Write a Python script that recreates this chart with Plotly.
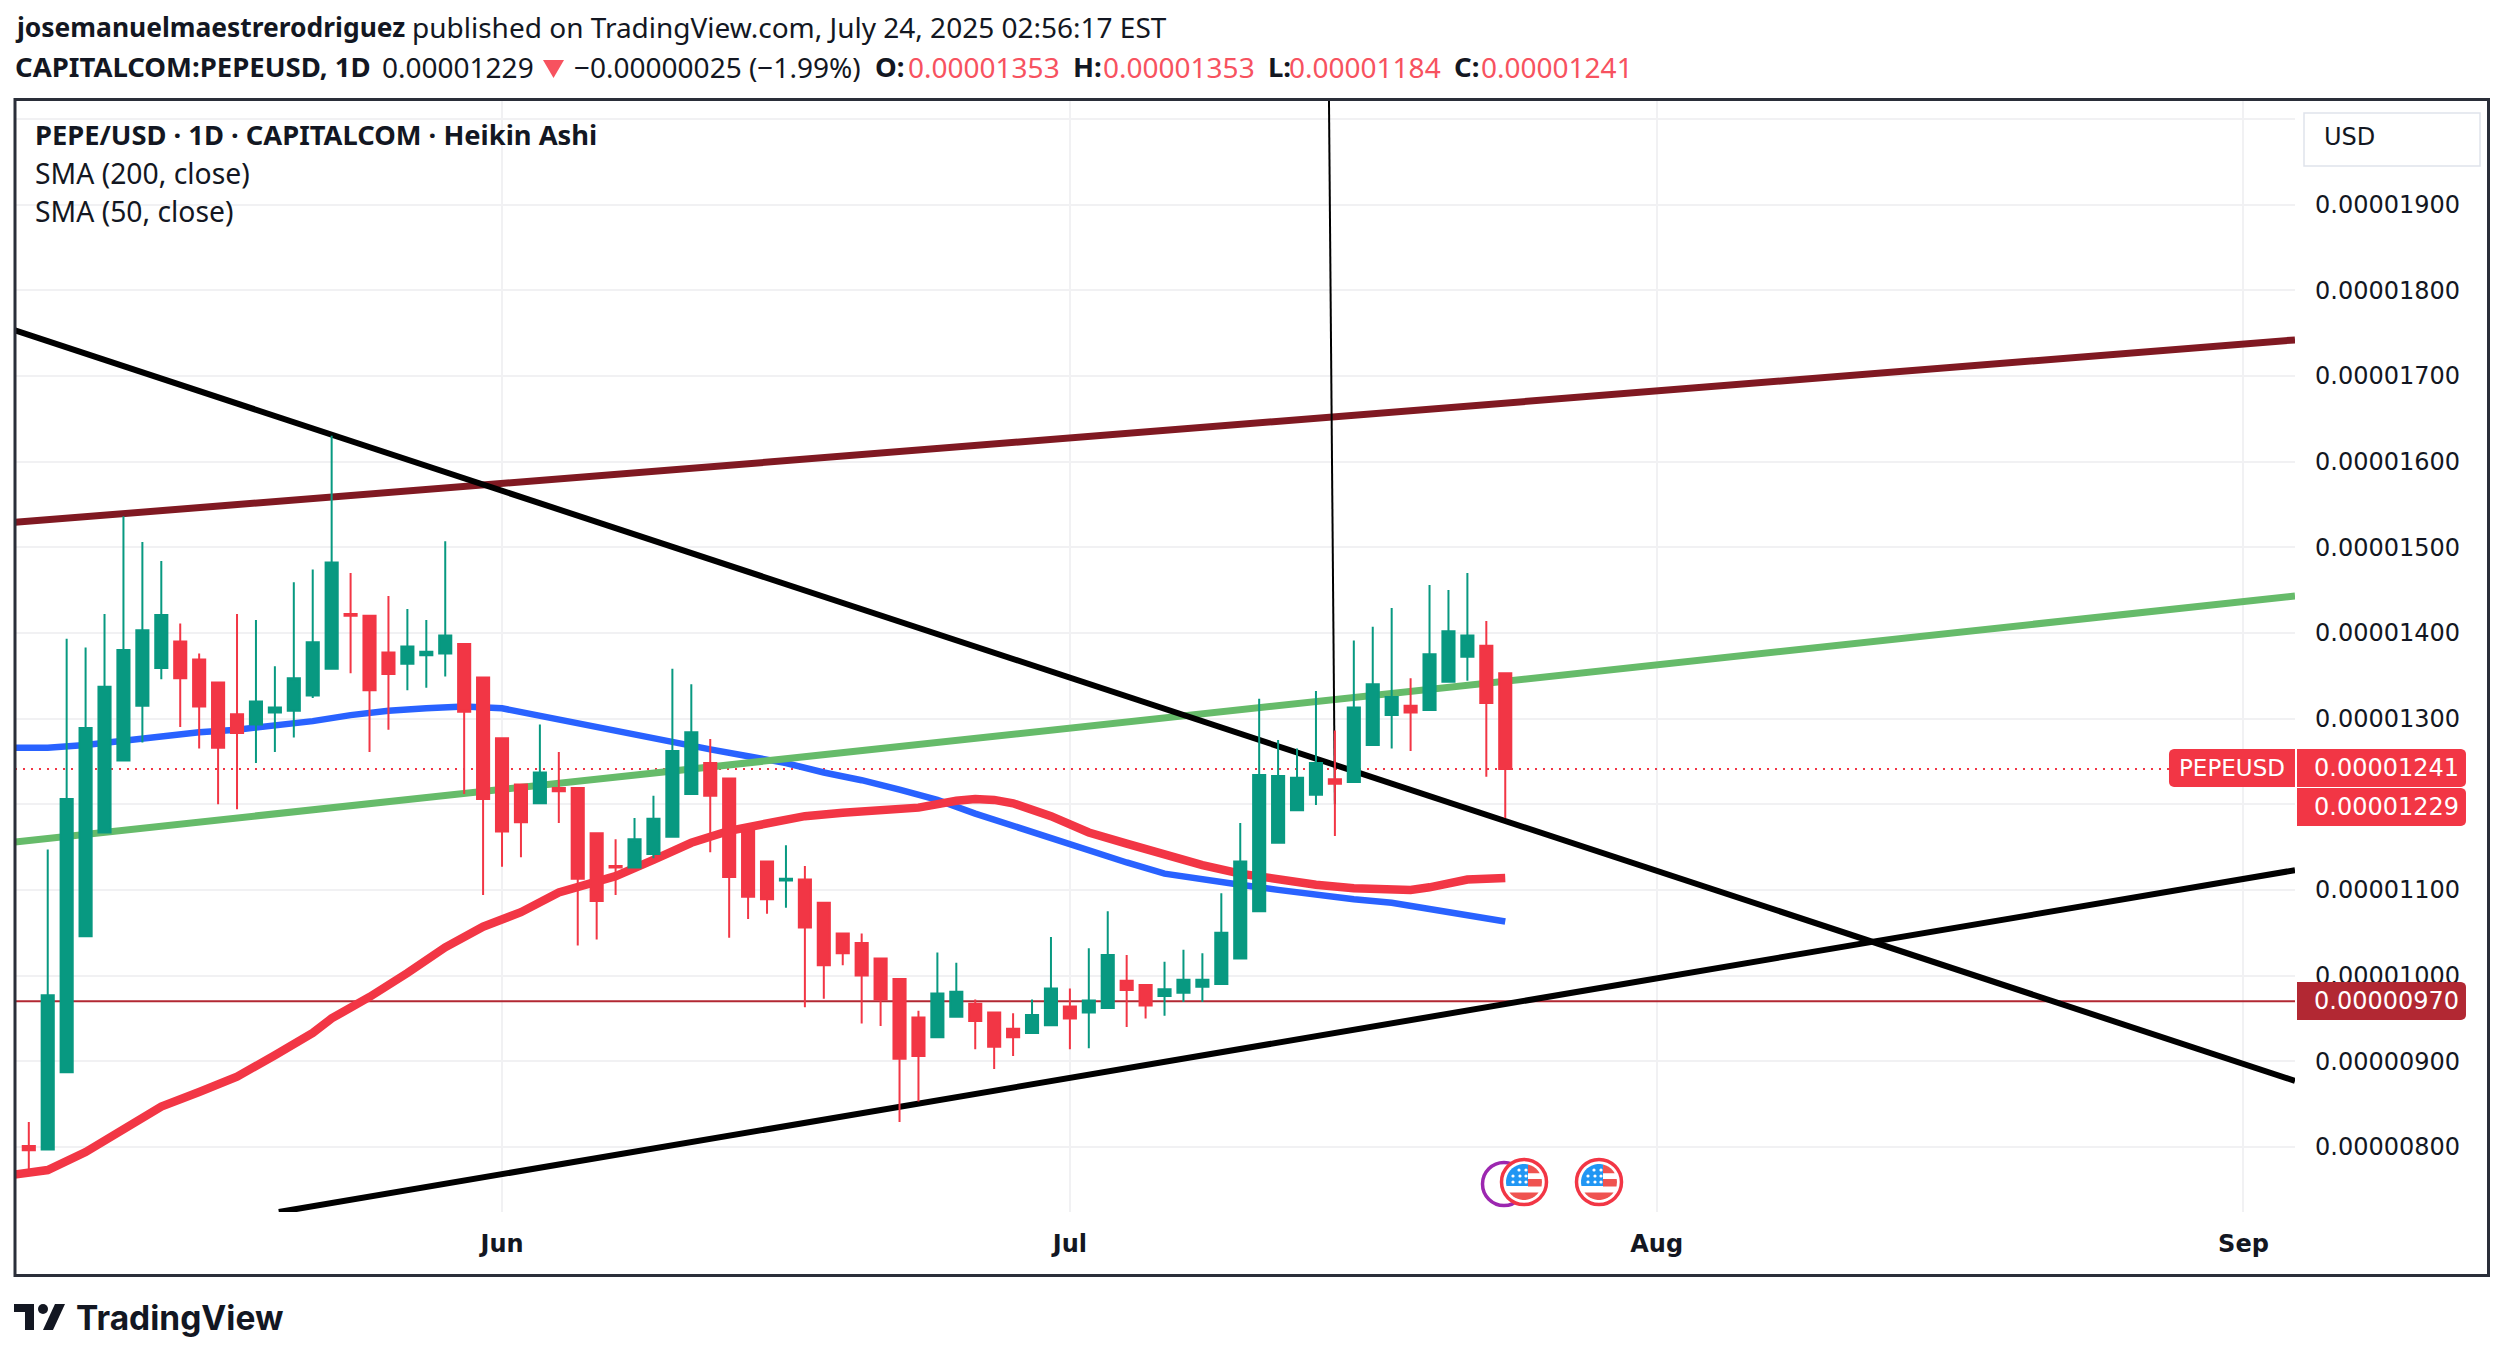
import numpy as np
import pandas as pd
import plotly.graph_objects as go

W, H = 2504, 1359
UNIT = 1e-8  # every price list below is in units of 0.00000001

# data: heikin ashi candles, one per day
days = pd.date_range("2025-05-07", "2025-07-24", freq="D")
opens = [801, 797, 887, 1046, 1167, 1251, 1315, 1359, 1390, 1369, 1342, 1305, 1293, 1307, 1309, 1327, 1358, 1422, 1420, 1377,
    1364, 1374, 1376, 1387, 1348, 1277, 1223, 1201, 1219, 1219, 1166, 1128, 1126, 1142, 1162, 1212, 1248, 1230, 1169, 1133,
    1111, 1112, 1085, 1049, 1038, 1020, 996, 951, 928, 952, 967, 957, 938, 933, 942, 964, 957, 962, 994, 989,
    976, 980, 987, 990, 1020, 1075, 1155, 1193, 1211, 1229, 1226, 1269, 1304, 1315, 1310, 1343, 1372, 1385, 1353]
highs = [829, 1147, 1393, 1383, 1422, 1536, 1506, 1484, 1411, 1376, 1342, 1422, 1415, 1361, 1459, 1474, 1630, 1470, 1420, 1443,
    1428, 1415, 1507, 1387, 1348, 1277, 1223, 1293, 1261, 1219, 1166, 1159, 1184, 1210, 1358, 1340, 1276, 1230, 1169, 1133,
    1152, 1128, 1085, 1049, 1049, 1020, 996, 959, 1027, 1015, 972, 957, 956, 972, 1045, 985, 1032, 1075, 1024, 989,
    1016, 1030, 1026, 1096, 1178, 1323, 1275, 1265, 1332, 1286, 1391, 1407, 1429, 1347, 1456, 1450, 1470, 1414, 1353]
lows = [772, 797, 887, 1046, 1167, 1251, 1272, 1346, 1290, 1265, 1200, 1194, 1248, 1261, 1278, 1324, 1358, 1353, 1261, 1287,
    1333, 1336, 1349, 1212, 1094, 1127, 1138, 1201, 1178, 1035, 1042, 1094, 1126, 1137, 1162, 1212, 1144, 1044, 1066, 1072,
    1079, 963, 973, 1012, 944, 941, 829, 853, 928, 952, 914, 891, 906, 933, 942, 914, 915, 962, 940, 950,
    953, 969, 969, 990, 1020, 1075, 1155, 1193, 1199, 1163, 1226, 1269, 1265, 1262, 1310, 1343, 1344, 1232, 1184]
closes = [796, 977, 1206, 1289, 1337, 1380, 1403, 1421, 1347, 1314, 1266, 1283, 1320, 1313, 1347, 1389, 1482, 1420, 1333, 1352,
    1384, 1378, 1397, 1308, 1206, 1168, 1179, 1237, 1215, 1113, 1087, 1126, 1159, 1183, 1262, 1284, 1210, 1115, 1092, 1089,
    1113, 1056, 1012, 1026, 1000, 972, 903, 906, 979, 981, 947, 917, 928, 954, 985, 950, 971, 1024, 983, 965,
    984, 995, 995, 1050, 1133, 1234, 1233, 1231, 1248, 1224, 1313, 1340, 1325, 1307, 1375, 1402, 1397, 1318, 1241]

sma200_days = ["05-06", "05-08", "05-10", "05-12", "05-14", "05-16", "05-18", "05-20", "05-22", "05-24", "05-26", "05-28", "05-30",
    "06-01", "06-03", "06-05", "06-08", "06-10", "06-12", "06-14", "06-16", "06-18", "06-20", "06-22", "06-24", "06-26", "06-28", "06-30",
    "07-02", "07-04", "07-06", "07-08", "07-10", "07-12", "07-14", "07-16", "07-18", "07-20", "07-22", "07-24"]
sma200 = [1266, 1266, 1269, 1274, 1280, 1284, 1287, 1292, 1297, 1304, 1309, 1312, 1314,
    1312, 1303, 1294, 1281, 1272, 1264, 1256, 1248, 1237, 1228, 1217, 1205, 1189, 1175, 1160,
    1145, 1132, 1119, 1112, 1106, 1100, 1094, 1089, 1085, 1078, 1071, 1063]
sma50_days = ["05-06", "05-07", "05-08", "05-10", "05-12", "05-14", "05-16", "05-18", "05-20", "05-22", "05-23", "05-25", "05-27", "05-29", "05-31",
    "06-02", "06-04", "06-07", "06-09", "06-11", "06-13", "06-15", "06-17", "06-19", "06-21", "06-23", "06-25", "06-26", "06-27", "06-28", "06-30",
    "07-02", "07-04", "07-06", "07-08", "07-10", "07-12", "07-14", "07-16", "07-18", "07-19", "07-20", "07-22", "07-24"]
sma50 = [767, 769, 773, 794, 820, 847, 864, 882, 907, 933, 950, 975, 1003, 1033, 1057,
    1074, 1097, 1116, 1135, 1155, 1169, 1177, 1186, 1190, 1193, 1196, 1204, 1206, 1205, 1201, 1186,
    1167, 1154, 1141, 1129, 1119, 1112, 1106, 1102, 1100, 1100, 1103, 1112, 1114]

# drawn lines, start and end
left_edge, right_edge = "2025-05-06 06:30", "2025-09-03 17:20"
edges = [left_edge, right_edge]
falling_line = [1753, 877]
maroon_line = [1529, 1742]
green_line = [1156, 1443]
rising_days = ["2025-05-20 05:00", right_edge]
rising_line = [724, 1123]
needle_days = ["2025-07-14 16:30", "2025-07-15 00:00"]
needle_line = [2022, 1200]
support = [970, 970]
last_close = [1241, 1241]

# axes
price_range = [724, 2022]
price_ticks = [800, 900, 1000, 1100, 1200, 1300, 1400, 1500, 1600, 1700, 1800, 1900, 2000]
price_labels = ["0.00000800", "0.00000900", "0.00001000", "0.00001100", "", "0.00001300", "0.00001400",
    "0.00001500", "0.00001600", "0.00001700", "0.00001800", "0.00001900", ""]
month_ticks = ["2025-06-01", "2025-07-01", "2025-08-01", "2025-09-01"]
month_labels = ["Jun", "Jul", "Aug", "Sep"]


def scaled(values):
    return (np.array(values) * UNIT).tolist()


def px(x):
    return x / W


def py(y):
    return 1 - y / H


def paper_rect(x0, y0, x1, y1, **kw):
    return dict(type="rect", xref="paper", yref="paper", x0=px(x0), x1=px(x1), y0=py(y0), y1=py(y1), **kw)


def paper_circle(cx, cy, r, **kw):
    return dict(type="circle", xref="paper", yref="paper", x0=px(cx - r), x1=px(cx + r), y0=py(cy + r), y1=py(cy - r), **kw)


def paper_path(points, color):
    d = "M" + " L".join(f"{px(a):.5f},{py(b):.5f}" for a, b in points) + " Z"
    return dict(type="path", xref="paper", yref="paper", path=d, fillcolor=color, line_width=0)


def tag(x0, y0, x1, y1, color, rounded="right"):
    # price tag with rounded outer corners
    r = 5
    pts = []
    left_r = r if rounded == "left" else 0
    right_r = r if rounded == "right" else 0
    for (cx, cy, rad, start) in [(x0 + left_r, y0 + left_r, left_r, 180), (x1 - right_r, y0 + right_r, right_r, 270),
                                 (x1 - right_r, y1 - right_r, right_r, 0), (x0 + left_r, y1 - left_r, left_r, 90)]:
        for a in np.radians(np.linspace(start, start + 90, 5)):
            pts.append((cx + rad * np.cos(a), cy + rad * np.sin(a)))
    return paper_path(pts, color)


def arc(cx, cy, r, a0, a1, n=14):
    # angles in degrees, screen coordinates (y grows downward)
    return [(cx + r * np.cos(a), cy + r * np.sin(a)) for a in np.radians(np.linspace(a0, a1, n))]


def flag(cx, cy):
    # economic event badge: the flag is cut from an 18px disc
    out = [paper_circle(cx, cy, 22.5, fillcolor="white", line=dict(color="#f23645", width=3.5))]
    r = 18
    out.append(paper_path([(cx + 4, cy + 4)] + arc(cx, cy, r, 167, 283), "#2196f3"))
    out.append(paper_path([(cx + 4, cy - 8.7)] + arc(cx, cy, r, 283, 331, 6), "#ef5350"))
    out.append(paper_path([(cx + 4, cy - 3), (cx + 17.7, cy - 3), (cx + 18, cy), (cx + 17.5, cy + 4.5), (cx + 4, cy + 4.5)], "#ef5350"))
    out.append(paper_path(arc(cx, cy, r, 36, 144), "#ef5350"))
    for dx, dy in [(-5, -12), (2, -12), (-11, -6), (-4, -6), (2, -6), (-11, 0), (-4, 0), (2, 0)]:
        out.append(paper_circle(cx + dx, cy + dy, 1.6, fillcolor="white", line_width=0))
    return out


fig = go.Figure()

def line_trace(x, y, color, width, dash=None):
    fig.add_trace(go.Scatter(x=x, y=scaled(y), mode="lines", line=dict(color=color, width=width, dash=dash),
                             hoverinfo="skip", xaxis="x", yaxis="y"))


line_trace(edges, support, "#b22833", 2)
line_trace(edges, last_close, "#f23645", 2, "2px,6px")
line_trace(["2025-" + d for d in sma200_days], sma200, "#2962ff", 6.5)
line_trace(["2025-" + d for d in sma50_days], sma50, "#f23645", 8.5)
line_trace(edges, green_line, "#66bb6a", 7)
line_trace(edges, maroon_line, "#801922", 7)
line_trace(edges, falling_line, "#000000", 6)
line_trace(rising_days, rising_line, "#000000", 6)
line_trace(needle_days, needle_line, "#000000", 2)

# candles go on an overlaying axis so they stay above the scatter lines
fig.add_trace(go.Candlestick(x=days, open=scaled(opens), high=scaled(highs), low=scaled(lows), close=scaled(closes),
    increasing=dict(line=dict(color="#089981", width=2), fillcolor="#089981"),
    decreasing=dict(line=dict(color="#f23645", width=2), fillcolor="#f23645"),
    whiskerwidth=0, hoverinfo="skip", xaxis="x", yaxis="y2"))

shapes = [
    tag(2169, 749, 2295, 787, "#f23645", "left"),
    tag(2297, 749, 2466, 787, "#f23645"),
    tag(2297, 788, 2466, 826, "#f23645"),
    tag(2297, 982, 2466, 1020, "#b22833"),
    paper_rect(2304, 113, 2480, 166, fillcolor="white", line=dict(color="#e0e3eb", width=1.5)),
    paper_rect(15, 99.5, 2488.5, 1275.5, line=dict(color="#2a2e39", width=3)),
    paper_circle(1504, 1184, 21.5, line=dict(color="#9c27b0", width=3.5)),
]
shapes += flag(1524, 1182) + flag(1599, 1182)
# logo mark and the down arrow of the header
shapes += [
    paper_path([(14, 1304), (34, 1304), (34, 1330), (25, 1330), (25, 1312), (14, 1312)], "#131722"),
    paper_circle(43, 1309, 5, fillcolor="#131722", line_width=0),
    paper_path([(55, 1304), (65, 1304), (53, 1330), (43, 1330)], "#131722"),
    paper_path([(543, 60), (564, 60), (553.5, 78)], "#f7525f"),
]

sans = "Noto Sans"
axis_font = "DejaVu Sans"
ink = "#131722"
red = "#f7525f"


def text(x, y, s, size, color=ink, family=sans, anchor="left"):
    return dict(xref="paper", yref="paper", x=px(x), y=py(y), text=s, showarrow=False, xanchor=anchor, yanchor="middle",
                font=dict(family=family, size=size, color=color))


annotations = [
    text(13, 27, "<b>josemanuelmaestrerodriguez</b>", 26.4),
    text(410, 27, "published on TradingView.com, July 24, 2025 02:56:17 EST", 28),
    text(13, 67, "<b>CAPITALCOM:PEPEUSD, 1D</b>", 27.5),
    text(380, 67, "0.00001229", 28),
    text(572, 67, "−0.00000025 (−1.99%)", 28),
    text(873, 67, "<b>O:</b>", 27.5),
    text(906, 67, "0.00001353", 28, color=red),
    text(1071, 67, "<b>H:</b>", 27.5),
    text(1101, 67, "0.00001353", 28, color=red),
    text(1266, 67, "<b>L:</b>", 27.5),
    text(1287, 67, "0.00001184", 28, color=red),
    text(1452, 67, "<b>C:</b>", 27.5),
    text(1479, 67, "0.00001241", 28, color=red),
    text(33, 135, "<b>PEPE/USD · 1D · CAPITALCOM · Heikin Ashi</b>", 27.3),
    text(33, 173, "SMA (200, close)", 28.3),
    text(33, 211, "SMA (50, close)", 28.3),
    text(2322, 137, "USD", 24, family=axis_font),
    text(2232, 768, "PEPEUSD", 23, color="white", family=axis_font, anchor="center"),
    text(2386, 768, "0.00001241", 24, color="white", family=axis_font, anchor="center"),
    text(2386, 807, "0.00001229", 24, color="white", family=axis_font, anchor="center"),
    text(2386, 1001, "0.00000970", 24, color="white", family=axis_font, anchor="center"),
    text(74, 1318, "<b>TradingView</b>", 33.5, family="Inter"),
]

fig.update_layout(
    width=W, height=H, autosize=False, margin=dict(l=0, r=0, t=0, b=0),
    paper_bgcolor="white", plot_bgcolor="white", showlegend=False,
    shapes=shapes, annotations=annotations, boxgap=0.2, boxgroupgap=0.2,
    xaxis=dict(domain=[px(15), px(2295)], type="date", range=edges, tickvals=month_ticks, ticktext=month_labels,
        showgrid=True, gridcolor="#f1f1f3", gridwidth=2, zeroline=False, showline=False, ticks="",
        tickfont=dict(family=axis_font, size=24, color=ink, weight=600), ticklabelstandoff=15,
        rangeslider=dict(visible=False)),
    yaxis=dict(domain=[py(1212), py(100)], range=scaled(price_range), side="right", anchor="x",
        tickvals=scaled(price_ticks), ticktext=price_labels, showgrid=True, gridcolor="#f1f1f3", gridwidth=2,
        zeroline=False, showline=False, ticks="", tickfont=dict(family=axis_font, size=24, color=ink),
        ticklabelstandoff=19),
    yaxis2=dict(domain=[py(1212), py(100)], range=scaled(price_range), overlaying="y", side="right", anchor="x",
        visible=False, showgrid=False, zeroline=False),
)

# the page has a default 8px body margin that would shift the whole chart
fig.write_html("out.html", config=dict(displayModeBar=False), post_script="document.body.style.margin = '0';")
